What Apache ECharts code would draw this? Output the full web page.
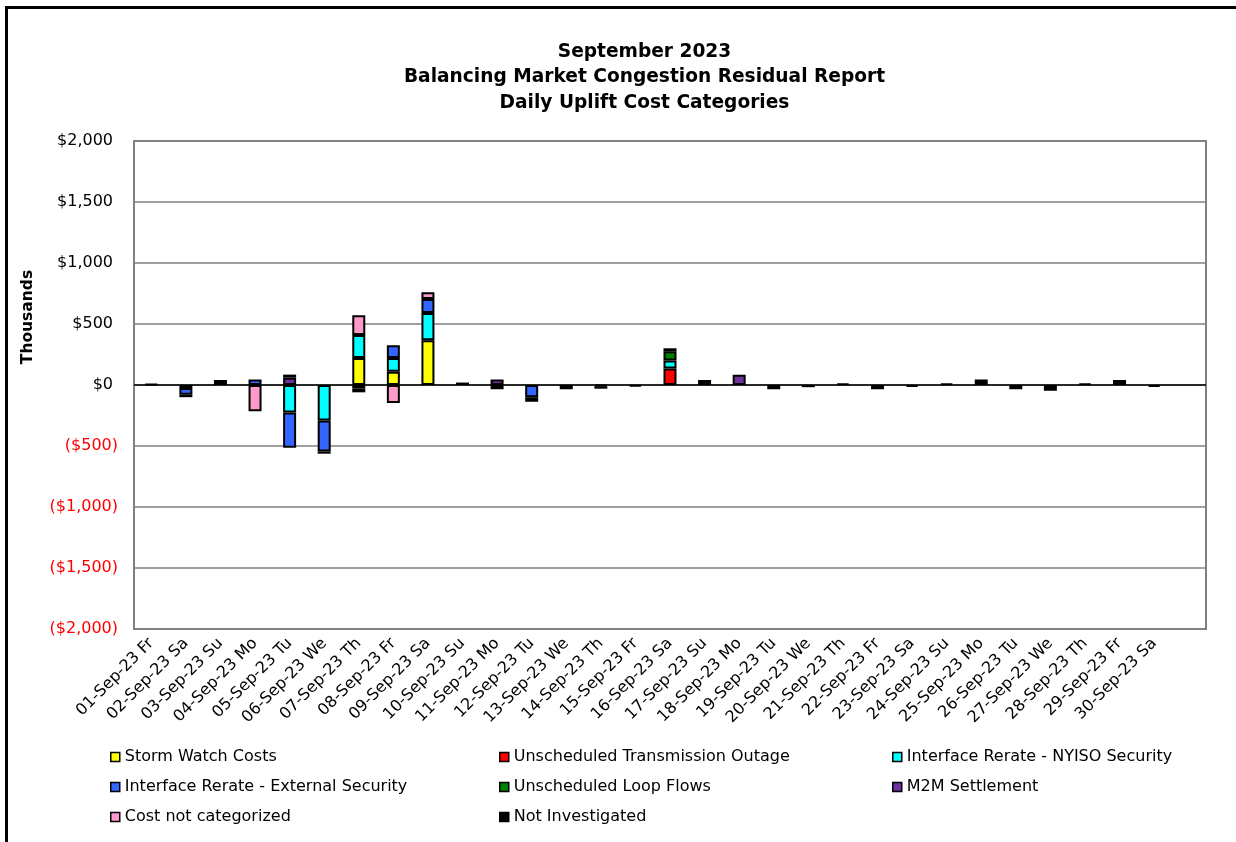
<!DOCTYPE html>
<html>
<head>
<meta charset="utf-8">
<title>September 2023 Balancing Market Congestion Residual Report</title>
<script src="https://cdn.jsdelivr.net/npm/echarts@6/dist/echarts.min.js"></script>
<style>
  html, body { margin: 0; padding: 0; background: #fff; }
  #chart { width: 1236px; height: 842px; }
</style>
</head>
<body>
<div id="chart"></div>
<script>
// Daily uplift cost categories, $ thousands. '-' = no amount that day.
const days = [
  '01-Sep-23 Fr','02-Sep-23 Sa','03-Sep-23 Su','04-Sep-23 Mo','05-Sep-23 Tu','06-Sep-23 We',
  '07-Sep-23 Th','08-Sep-23 Fr','09-Sep-23 Sa','10-Sep-23 Su','11-Sep-23 Mo','12-Sep-23 Tu',
  '13-Sep-23 We','14-Sep-23 Th','15-Sep-23 Fr','16-Sep-23 Sa','17-Sep-23 Su','18-Sep-23 Mo',
  '19-Sep-23 Tu','20-Sep-23 We','21-Sep-23 Th','22-Sep-23 Fr','23-Sep-23 Sa','24-Sep-23 Su',
  '25-Sep-23 Mo','26-Sep-23 Tu','27-Sep-23 We','28-Sep-23 Th','29-Sep-23 Fr','30-Sep-23 Sa',
  ''
];

const stormWatch = ['-','-','-','-','-','-', 222,108,367,'-','-','-', '-','-','-','-','-','-', '-','-','-','-','-','-', '-','-','-','-','-','-','-'];
const transmissionOutage = ['-','-','-','-','-','-', '-','-','-','-','-','-', '-','-','-',136,'-','-', '-','-','-','-','-','-', '-','-','-','-','-','-','-'];
const rerateNyiso = ['-',-25,'-','-',-225,-290, 188,114,223,'-','-','-', '-','-','-',65,'-','-', '-','-','-','-','-','-', '-','-','-','-','-','-','-'];
const rerateExternal = ['-',-55,'-',45,-290,-255, -28,104,114,'-','-',-100, '-','-','-','-','-','-', '-','-','-','-','-','-', '-','-','-','-','-','-','-'];
const loopFlows = ['-','-','-','-','-','-', -32,'-','-','-','-','-', '-','-','-',75,'-','-', '-','-','-','-','-','-', '-','-','-','-','-','-','-'];
const m2mSettlement = ['-','-','-','-',60,'-', '-','-','-','-',45,'-', '-',-10,'-','-','-',85, '-','-','-','-','-','-', '-','-','-','-','-','-','-'];
const notCategorized = ['-','-','-',-215,25,'-', 161,-147,57,'-','-','-', '-','-','-','-','-','-', '-','-','-','-','-','-', '-','-','-','-','-','-','-'];
const notInvestigated = [8,-20,40,'-','-',-18, '-','-','-',20,-35,-38, -35,-20,-12,25,40,'-', -35,-18,12,-35,-15,12, 45,-35,-48,12,42,-15,'-'];

const yTicks = { min: -2000, max: 2000, step: 500 };

const seriesDefs = [
  { name: 'Storm Watch Costs', data: stormWatch, color: '#FFFF00' },
  { name: 'Unscheduled Transmission Outage', data: transmissionOutage, color: '#FF0000' },
  { name: 'Interface Rerate - NYISO Security', data: rerateNyiso, color: '#00FFFF' },
  { name: 'Interface Rerate - External Security', data: rerateExternal, color: '#3366FF' },
  { name: 'Unscheduled Loop Flows', data: loopFlows, color: '#008000' },
  { name: 'M2M Settlement', data: m2mSettlement, color: '#7030A0' },
  { name: 'Cost not categorized', data: notCategorized, color: '#FF99CC' },
  { name: 'Not Investigated', data: notInvestigated, color: '#000000' }
];

const FONT = 'DejaVu Sans';

function money(v) {
  const s = '$' + Math.abs(v).toLocaleString('en-US');
  return v < 0 ? '{neg|(' + s + ')}' : '{pos|' + s + '}';
}

const series = seriesDefs.map((d, i) => {
  const s = {
    name: d.name,
    type: 'bar',
    stack: 'cost',
    data: d.data,
    barWidth: 13,
    itemStyle: { color: d.color, borderColor: '#000', borderWidth: 2 },
    emphasis: { disabled: true }
  };
  if (i === 0) {
    s.markLine = {
      silent: true,
      symbol: 'none',
      label: { show: false },
      lineStyle: { color: '#000', width: 1.5, type: 'solid' },
      data: [{ yAxis: 0 }],
      z: 1
    };
  }
  return s;
});

function legendColumn(left, names) {
  return {
    orient: 'vertical',
    left: left,
    top: 743,
    itemWidth: 9,
    itemHeight: 9,
    itemGap: 12,
    selectedMode: false,
    icon: 'rect',
    itemStyle: { borderWidth: 1.5 },
    textStyle: { fontFamily: FONT, fontSize: 16, color: '#000', lineHeight: 18 },
    data: names
  };
}

const chart = echarts.init(document.getElementById('chart'), null, { renderer: 'canvas' });

chart.setOption({
  backgroundColor: '#fff',
  animation: false,
  grid: {
    left: 134, right: 30, top: 141, bottom: 213,
    show: true, borderColor: '#808080', borderWidth: 2, backgroundColor: 'transparent'
  },
  xAxis: {
    type: 'category',
    data: days,
    boundaryGap: true,
    axisLine: { onZero: false, show: false },
    axisTick: { show: false },
    axisLabel: {
      interval: 0,
      rotate: 45,
      margin: 12,
      fontFamily: FONT,
      fontSize: 16,
      color: '#000'
    }
  },
  yAxis: {
    type: 'value',
    min: yTicks.min,
    max: yTicks.max,
    interval: yTicks.step,
    axisLine: { show: false },
    axisTick: { show: false },
    splitLine: { lineStyle: { color: '#808080', width: 1.5 } },
    axisLabel: {
      margin: 16,
      fontFamily: FONT,
      fontSize: 16,
      formatter: money,
      rich: {
        pos: { color: '#000', fontFamily: FONT, fontSize: 16, padding: [0, 5, 0, 0] },
        neg: { color: '#FF0000', fontFamily: FONT, fontSize: 16 }
      }
    }
  },
  legend: [
    legendColumn(105, ['Storm Watch Costs', 'Interface Rerate - External Security', 'Cost not categorized']),
    legendColumn(494, ['Unscheduled Transmission Outage', 'Unscheduled Loop Flows', 'Not Investigated']),
    legendColumn(887, ['Interface Rerate - NYISO Security', 'M2M Settlement'])
  ],
  graphic: [
    {
      type: 'rect',
      shape: { x: 6.5, y: 7.5, width: 1300, height: 900 },
      style: { fill: 'none', stroke: '#000', lineWidth: 3 },
      silent: true
    },
    {
      type: 'text', x: 644.5, y: 52,
      style: { text: 'September 2023', font: 'bold 18.6px "DejaVu Sans"', fill: '#000', textAlign: 'center', textVerticalAlign: 'middle' }
    },
    {
      type: 'text', x: 644.5, y: 77.5,
      style: { text: 'Balancing Market Congestion Residual Report', font: 'bold 18.6px "DejaVu Sans"', fill: '#000', textAlign: 'center', textVerticalAlign: 'middle' }
    },
    {
      type: 'text', x: 644.5, y: 103,
      style: { text: 'Daily Uplift Cost Categories', font: 'bold 18.6px "DejaVu Sans"', fill: '#000', textAlign: 'center', textVerticalAlign: 'middle' }
    },
    {
      type: 'text', x: 28, y: 317, rotation: Math.PI / 2,
      style: { text: 'Thousands', font: 'bold 15.5px "DejaVu Sans"', fill: '#000', textAlign: 'center', textVerticalAlign: 'middle' }
    }
  ],
  series: series
});
</script>
</body>
</html>
